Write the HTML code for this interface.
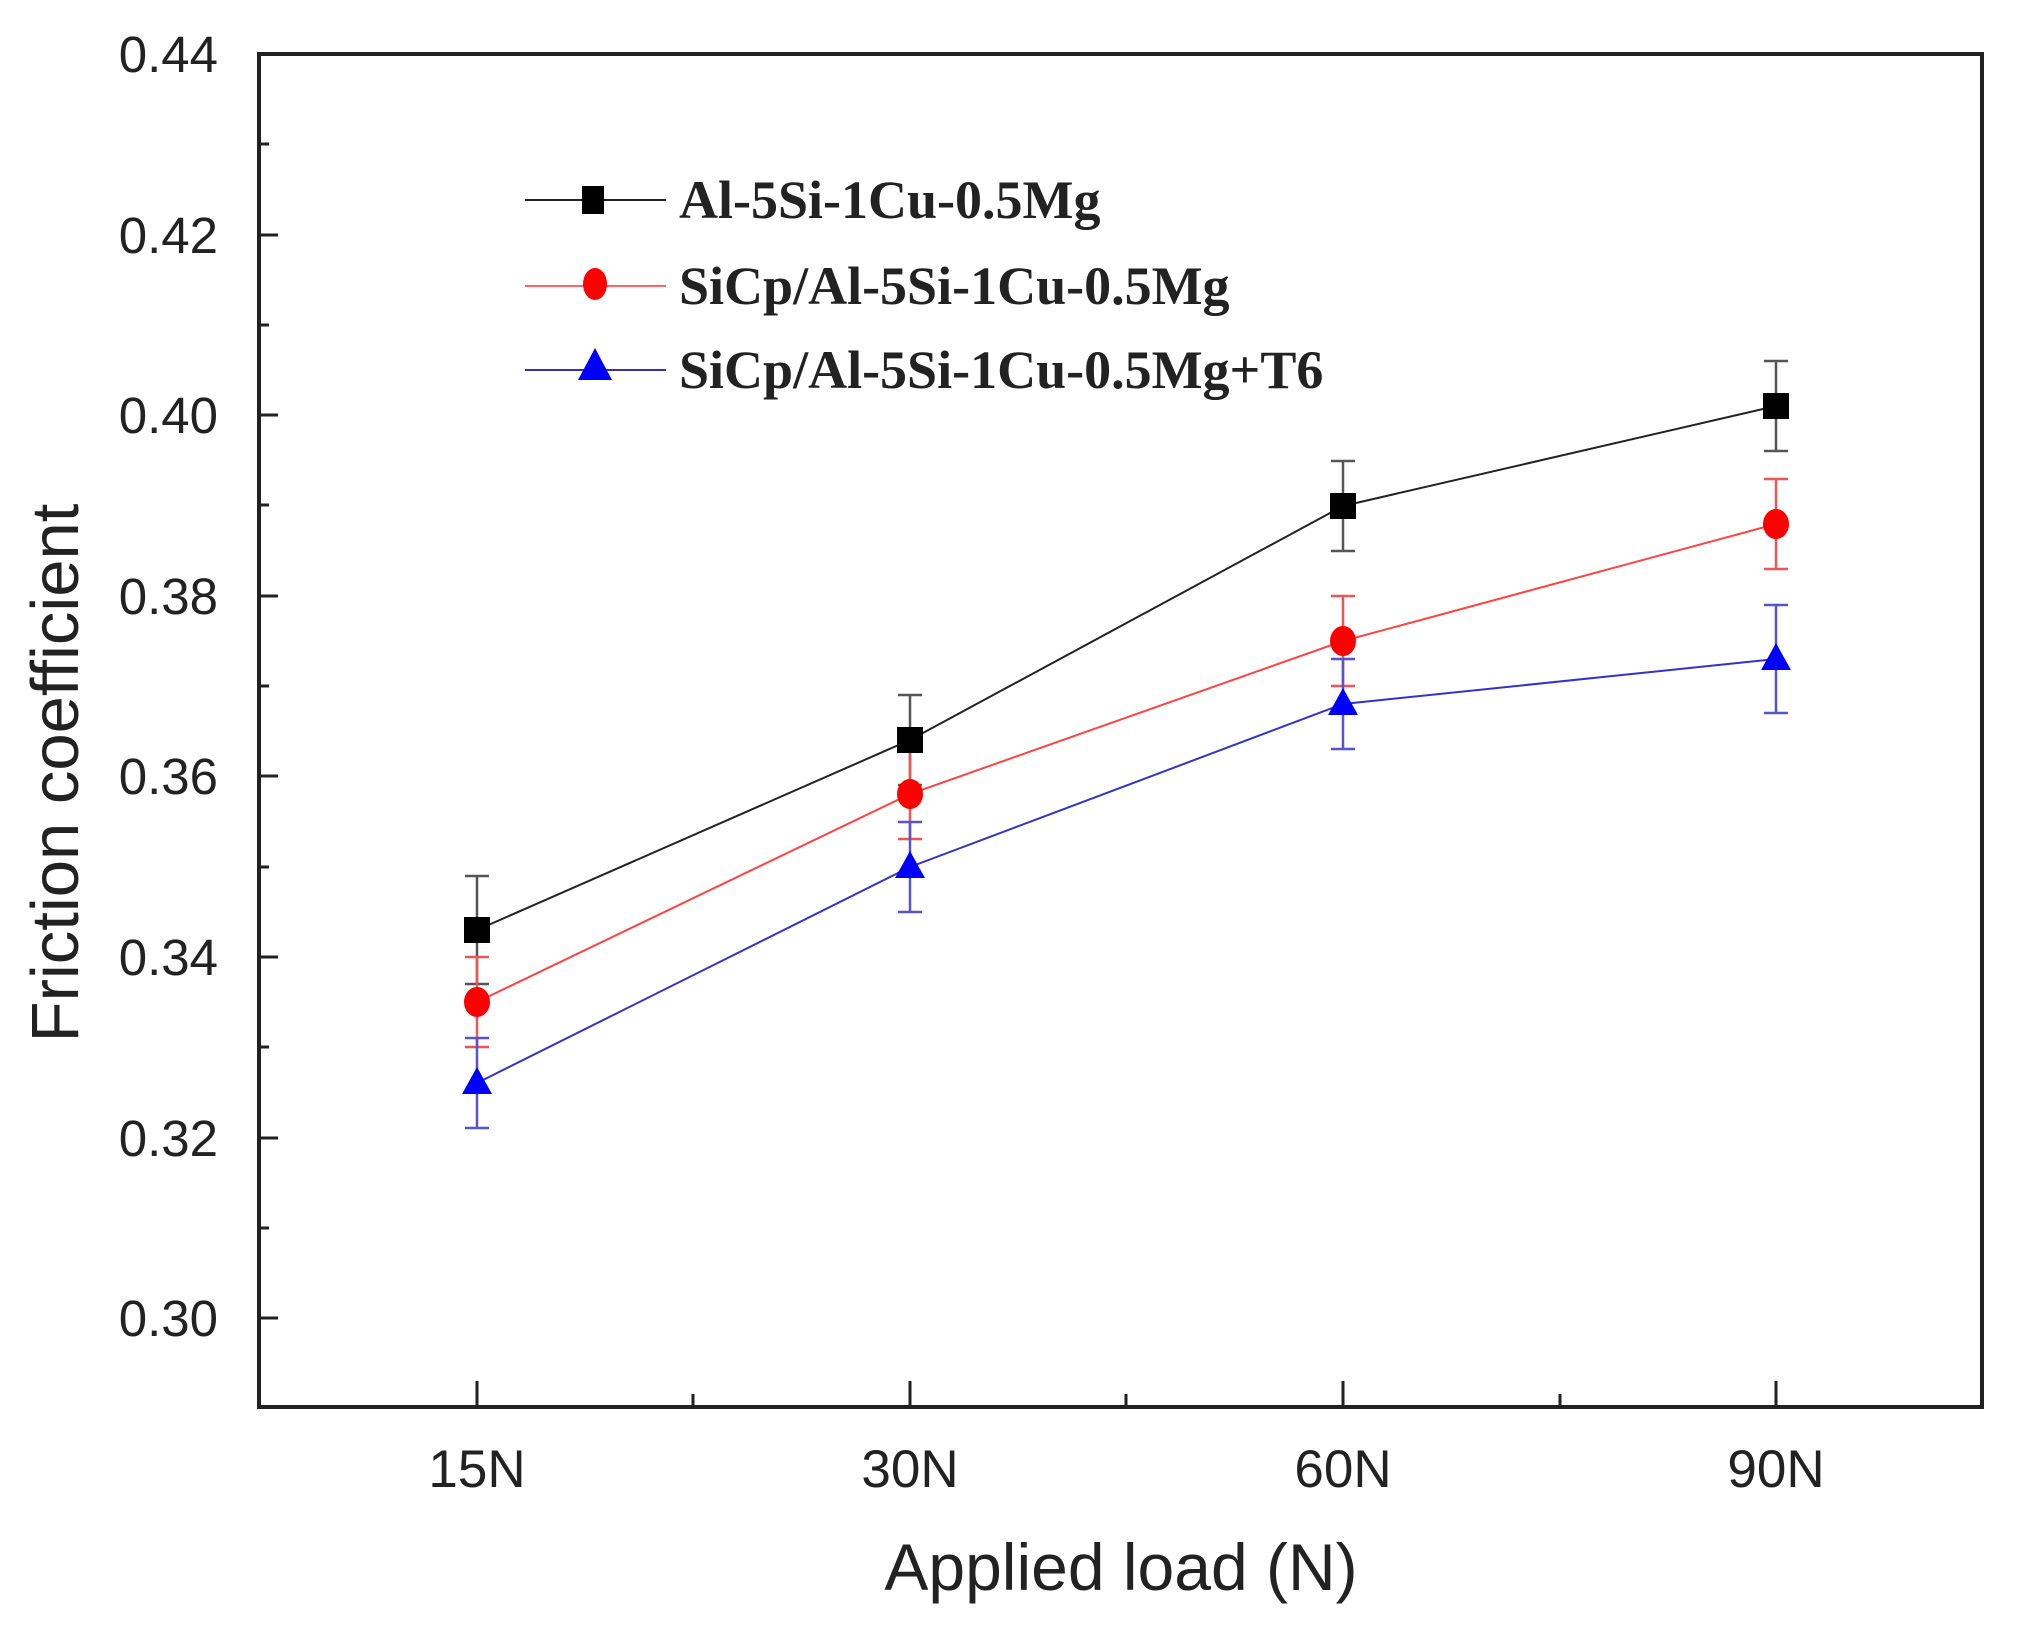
<!DOCTYPE html>
<html><head><meta charset="utf-8"><style>html,body{margin:0;padding:0;background:#fff}</style></head>
<body>
<svg width="2021" height="1626" viewBox="0 0 2021 1626" xmlns="http://www.w3.org/2000/svg">
<rect width="2021" height="1626" fill="#fff"/>
<g stroke="#222" stroke-width="4" fill="none">
<rect x="259" y="54" width="1723" height="1353"/>
</g>
<g stroke="#222" stroke-width="3">
<line x1="259" y1="54" x2="278" y2="54"/>
<line x1="259" y1="235" x2="278" y2="235"/>
<line x1="259" y1="415" x2="278" y2="415"/>
<line x1="259" y1="596" x2="278" y2="596"/>
<line x1="259" y1="776" x2="278" y2="776"/>
<line x1="259" y1="957" x2="278" y2="957"/>
<line x1="259" y1="1138" x2="278" y2="1138"/>
<line x1="259" y1="1318" x2="278" y2="1318"/>
<line x1="259" y1="144" x2="269" y2="144"/>
<line x1="259" y1="325" x2="269" y2="325"/>
<line x1="259" y1="505" x2="269" y2="505"/>
<line x1="259" y1="686" x2="269" y2="686"/>
<line x1="259" y1="867" x2="269" y2="867"/>
<line x1="259" y1="1047" x2="269" y2="1047"/>
<line x1="259" y1="1228" x2="269" y2="1228"/>
<line x1="477" y1="1407" x2="477" y2="1381"/>
<line x1="910" y1="1407" x2="910" y2="1381"/>
<line x1="1343" y1="1407" x2="1343" y2="1381"/>
<line x1="1776" y1="1407" x2="1776" y2="1381"/>
<line x1="693" y1="1407" x2="693" y2="1394"/>
<line x1="1126" y1="1407" x2="1126" y2="1394"/>
<line x1="1560" y1="1407" x2="1560" y2="1394"/>
</g>
<g font-family="Liberation Sans, sans-serif" font-size="51" fill="#222" text-anchor="end">
<text x="218" y="72">0.44</text>
<text x="218" y="253">0.42</text>
<text x="218" y="433">0.40</text>
<text x="218" y="614">0.38</text>
<text x="218" y="794">0.36</text>
<text x="218" y="975">0.34</text>
<text x="218" y="1156">0.32</text>
<text x="218" y="1336">0.30</text>
</g>
<g font-family="Liberation Sans, sans-serif" font-size="53" fill="#222" text-anchor="middle">
<text x="477" y="1487">15N</text>
<text x="910" y="1487">30N</text>
<text x="1343" y="1487">60N</text>
<text x="1776" y="1487">90N</text>
<text x="1121" y="1590" font-size="66">Applied load (N)</text>
<text transform="translate(78,773) rotate(-90)" font-size="67">Friction coefficient</text>
</g>
<g stroke-width="2.5">
<g stroke="#555">
<path d="M477 876V984M465 876H489M465 984H489"/>
<path d="M910 695V785M898 695H922M898 785H922"/>
<path d="M1343 461V551M1331 461H1355M1331 551H1355"/>
<path d="M1776 361V451M1764 361H1788M1764 451H1788"/>
</g>
<g stroke="#e55">
<path d="M477 957V1047M465 957H489M465 1047H489"/>
<path d="M910 749V839M898 749H922M898 839H922"/>
<path d="M1343 596V686M1331 596H1355M1331 686H1355"/>
<path d="M1776 479V569M1764 479H1788M1764 569H1788"/>
</g>
<g stroke="#55c">
<path d="M477 1038V1128M465 1038H489M465 1128H489"/>
<path d="M910 822V912M898 822H922M898 912H922"/>
<path d="M1343 659V749M1331 659H1355M1331 749H1355"/>
<path d="M1776 605V713M1764 605H1788M1764 713H1788"/>
</g>
</g>
<g fill="none" stroke-width="2">
<polyline points="477,930 910,740 1343,506 1776,406" stroke="#222"/>
<polyline points="477,1002 910,794 1343,641 1776,524" stroke="#f44"/>
<polyline points="477,1083 910,867 1343,704 1776,659" stroke="#33c"/>
</g>
<g fill="#000">
<rect x="464" y="917" width="26" height="26"/>
<rect x="897" y="727" width="26" height="26"/>
<rect x="1330" y="493" width="26" height="26"/>
<rect x="1763" y="393" width="26" height="26"/>
</g>
<g fill="#f00">
<ellipse cx="477" cy="1002" rx="13" ry="15"/>
<ellipse cx="910" cy="794" rx="13" ry="15"/>
<ellipse cx="1343" cy="641" rx="13" ry="15"/>
<ellipse cx="1776" cy="524" rx="13" ry="15"/>
</g>
<g fill="#00f">
<polygon points="477,1067 462,1094 492,1094"/>
<polygon points="910,851 895,878 925,878"/>
<polygon points="1343,688 1328,715 1358,715"/>
<polygon points="1776,643 1761,670 1791,670"/>
</g>
<g stroke-width="2">
<line x1="525" y1="200" x2="666" y2="200" stroke="#222"/>
<line x1="525" y1="286" x2="666" y2="286" stroke="#f66"/>
<line x1="525" y1="370" x2="666" y2="370" stroke="#33a"/>
</g>
<rect x="582" y="186" width="22" height="28" fill="#000"/>
<ellipse cx="595" cy="284" rx="12" ry="16" fill="#f00"/>
<polygon points="595,348 578,380 612,380" fill="#00f"/>
<g font-family="Liberation Serif, serif" font-weight="bold" font-size="54" fill="#222">
<text x="679" y="218">Al-5Si-1Cu-0.5Mg</text>
<text x="679" y="304">SiCp/Al-5Si-1Cu-0.5Mg</text>
<text x="679" y="388">SiCp/Al-5Si-1Cu-0.5Mg+T6</text>
</g>
</svg>
</body></html>
